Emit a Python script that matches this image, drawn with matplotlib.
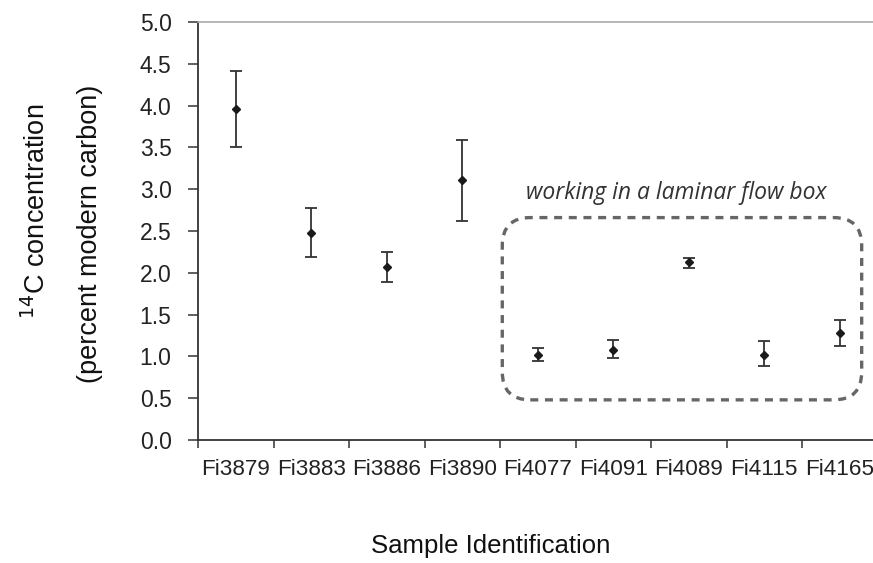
import matplotlib
matplotlib.use("Agg")
import matplotlib.pyplot as plt
import numpy as np
from matplotlib.patches import FancyBboxPatch
from matplotlib.transforms import IdentityTransform

# 14C results per sample (pMC), with lower / upper error bar lengths
samples = ['Fi3879', 'Fi3883', 'Fi3886', 'Fi3890', 'Fi4077',
           'Fi4091', 'Fi4089', 'Fi4115', 'Fi4165']
pmc = [3.96, 2.48, 2.07, 3.11, 1.02, 1.08, 2.13, 1.02, 1.28]
err_low = [0.45, 0.29, 0.18, 0.49, 0.08, 0.10, 0.07, 0.14, 0.16]
err_high = [0.45, 0.30, 0.18, 0.48, 0.08, 0.12, 0.05, 0.16, 0.16]
yticks = [0.0, 0.5, 1.0, 1.5, 2.0, 2.5, 3.0, 3.5, 4.0, 4.5, 5.0]

# laminar flow box group: samples 4..8, box extent in data units
box_x = (3.53, 8.29)
box_y = (0.48, 2.66)

tick_font = 'Liberation Sans'

fig = plt.figure(figsize=(8.73, 5.63), dpi=100)
ax = fig.add_axes([0.2268, 0.2185, 0.7784, 0.7425])

x = np.arange(len(samples))
ax.errorbar(x, pmc, yerr=[err_low, err_high], fmt='D', color='#1a1a1a',
            ecolor='#333333', elinewidth=1.3, capsize=4, capthick=1.3,
            markersize=4.5, zorder=3)

ax.set_xlim(-0.5, len(samples) - 0.5)
ax.set_ylim(0, 5.0)
ax.set_yticks(yticks)
ax.set_yticklabels(['%.1f' % t for t in yticks], fontfamily=tick_font, fontsize=16.5, color='#222222')
ax.set_xticks(np.arange(len(samples) + 1) - 0.5, minor=False)
ax.set_xticklabels([''] * (len(samples) + 1))
ax.set_xticks(x, minor=True)
ax.set_xticklabels(samples, minor=True, fontfamily=tick_font, fontsize=16.2, color='#222222')
ax.tick_params(axis='x', which='minor', length=0, pad=14)
ax.tick_params(axis='x', which='major', direction='out', length=6, width=1.1, color='#333333')
ax.tick_params(axis='y', direction='out', length=7, width=1.1, color='#333333', pad=12)

ax.spines['right'].set_visible(False)
ax.spines['top'].set_color('#aaaaaa')
ax.spines['top'].set_linewidth(1.2)
for s in ('left', 'bottom'):
    ax.spines[s].set_color('#333333')
    ax.spines[s].set_linewidth(1.3)

# axis titles
fig.text(0.042, 0.625, r'$^{14}$C concentration', rotation=90, ha='center', va='center',
         fontfamily='Liberation Sans', fontsize=19.5, color='#111111')
fig.text(0.103, 0.585, '(percent modern carbon)', rotation=90, ha='center', va='center',
         fontfamily='Liberation Sans', fontsize=19.5, color='#111111')
fig.text(0.562, 0.031, 'Sample Identification', ha='center', va='center',
         fontfamily='Liberation Sans', fontsize=18.5, color='#111111')

# dashed rounded box around the laminar flow box samples
fig.canvas.draw()
(px0, py0) = ax.transData.transform((box_x[0], box_y[0]))
(px1, py1) = ax.transData.transform((box_x[1], box_y[1]))
box = FancyBboxPatch((px0, py0), px1 - px0, py1 - py0,
                     boxstyle='round,pad=0,rounding_size=28',
                     transform=IdentityTransform(), fill=False,
                     edgecolor='#666666', linewidth=2.4,
                     linestyle=(0, (2.4, 2.0)), zorder=2)
fig.patches.append(box)
box.set_figure(fig)

ax.text(5.84, 2.96, 'working in a laminar flow box',
        ha='center', va='center', fontfamily='Open Sans', style='italic',
        fontsize=16.5, color='#333333')

fig.savefig('out.png', dpi=100)
